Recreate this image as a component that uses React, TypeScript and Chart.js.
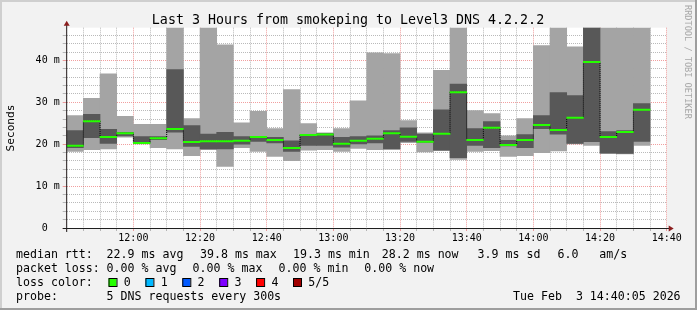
import { useEffect, useRef } from 'react';
import { Chart, registerables } from 'chart.js';

Chart.register(...registerables);

// ---- data -------------------------------------------------------------
// start of each 5-minute slot, in minutes after 11:40
const slotStartMin = [0, 5, 10, 15, 20, 25, 30, 35, 40, 45, 50, 55, 60, 65, 70, 75, 80, 85, 90, 95, 100, 105, 110, 115, 120, 125, 130, 135, 140, 145, 150, 155, 160, 165, 170];
const slotLength = 5;

// smoke: sorted pings (ms) per slot
const pingMin = [18.2, 18.6, 18.8, 21.6, 20.0, 19.1, 18.8, 17.2, 18.6, 14.6, 19.1, 18.2, 17.0, 16.0, 18.5, 18.6, 18.2, 18.9, 18.6, 18.7, 20.3, 18.1, 18.4, 16.3, 18.2, 18.4, 17.0, 17.2, 17.9, 18.3, 20.0, 19.6, 17.7, 17.6, 19.6];
const pingLow = [19.1, 21.5, 20.1, 21.9, 20.1, 21.0, 22.8, 19.4, 18.8, 18.8, 19.9, 20.6, 20.2, 18.2, 19.6, 19.6, 19.2, 20.0, 20.2, 18.8, 20.6, 20.4, 18.5, 16.7, 19.6, 19.1, 19.5, 19.1, 23.6, 22.3, 20.1, 20.5, 17.8, 17.7, 20.6];
const pingMedian = [19.6, 25.5, 21.7, 22.6, 20.3, 21.4, 23.6, 20.5, 20.7, 20.7, 20.8, 21.7, 21.0, 19.1, 22.2, 22.3, 20.1, 20.8, 21.3, 22.6, 21.8, 20.6, 22.5, 32.4, 21.0, 23.9, 19.8, 21.0, 24.6, 23.4, 26.3, 39.6, 21.7, 22.9, 28.2];
const pingHigh = [23.3, 27.2, 23.6, 22.9, 21.9, 21.9, 37.9, 24.5, 22.5, 22.9, 21.9, 21.9, 21.7, 20.9, 22.4, 22.6, 21.7, 21.9, 22.1, 23.3, 24.0, 22.5, 28.3, 34.4, 23.8, 25.5, 21.0, 22.4, 26.9, 32.4, 31.7, 55.0, 23.1, 23.3, 29.8];
const pingMax = [26.9, 31.0, 36.9, 26.7, 24.8, 24.8, 55.0, 26.2, 55.0, 43.8, 25.2, 27.9, 23.8, 33.1, 25.0, 22.8, 23.8, 30.4, 41.9, 41.7, 25.7, 22.8, 37.7, 55.0, 28.1, 27.4, 22.1, 26.2, 43.6, 55.0, 43.3, 58.0, 55.0, 55.0, 55.0];

const xTickMinutes = [20, 40, 60, 80, 100, 120, 140, 160, 180];
const xTickLabels = ['12:00', '12:20', '12:40', '13:00', '13:20', '13:40', '14:00', '14:20', '14:40'];
const yTickValues = [0, 10, 20, 30, 40];
const yTickLabels = ['0  ', '10 m', '20 m', '30 m', '40 m'];
const yMax = 47.8;

const titleText = 'Last 3 Hours from smokeping to Level3 DNS 4.2.2.2';
const rttStats = ['22.9 ms avg', '39.8 ms max', '19.3 ms min', '28.2 ms now', '3.9 ms sd', '6.0', 'am/s'];
const lossStats = ['0.00 % avg', '0.00 % max', '0.00 % min', '0.00 % now'];
const lossColorNames = ['0', '1', '2', '3', '4', '5/5'];
const lossColors = ['#26ff00', '#00b8ff', '#0059ff', '#7e00ff', '#ff0000', '#a00000'];
const probeText = '5 DNS requests every 300s';
const dateText = 'Tue Feb  3 14:40:05 2026';

// ---- style ------------------------------------------------------------
const W = 697;
const H = 310;
const PLOT = { left: 66.7, right: 666.7, top: 27.7, bottom: 228 };
const MONO = '"DejaVu Sans Mono", monospace';
const SMOKE_LIGHT = '#a4a4a4';
const SMOKE_DARK = '#585858';
const GRID_MINOR = 'rgba(140,140,140,0.6)';
const GRID_MAJOR = 'rgba(230,80,80,0.55)';

const decorPlugin = {
  id: 'rrdDecor',
  beforeDraw(chart: any) {
    const { ctx, chartArea } = chart;
    ctx.save();
    ctx.fillStyle = '#f2f2f2';
    ctx.fillRect(0, 0, W, H);
    ctx.fillStyle = '#cfcfcf';
    ctx.fillRect(0, 0, W, 2);
    ctx.fillRect(0, 0, 2, H);
    ctx.fillStyle = '#9e9e9e';
    ctx.fillRect(0, H - 2, W, 2);
    ctx.fillRect(W - 2, 0, 2, H);
    ctx.fillStyle = '#ffffff';
    ctx.fillRect(chartArea.left, chartArea.top, chartArea.right - chartArea.left, chartArea.bottom - chartArea.top);
    ctx.restore();
  },
  afterDatasetsDraw(chart: any) {
    const { ctx, chartArea } = chart;
    const x0 = chartArea.left;
    const y0 = chartArea.bottom;
    ctx.save();
    ctx.strokeStyle = '#1f1f1f';
    ctx.lineWidth = 1;
    ctx.beginPath();
    ctx.moveTo(x0 - 4, y0 + 0.5);
    ctx.lineTo(chartArea.right + 4, y0 + 0.5);
    ctx.stroke();
    ctx.beginPath();
    ctx.moveTo(x0, y0 + 4);
    ctx.lineTo(x0, chartArea.top - 3);
    ctx.stroke();
    ctx.fillStyle = '#8b1e1e';
    ctx.beginPath();
    ctx.moveTo(chartArea.right + 2, y0 + 0.5 - 3);
    ctx.lineTo(chartArea.right + 2, y0 + 0.5 + 3);
    ctx.lineTo(chartArea.right + 7, y0 + 0.5);
    ctx.closePath();
    ctx.fill();
    ctx.beginPath();
    ctx.moveTo(x0 - 3, chartArea.top - 2);
    ctx.lineTo(x0 + 3, chartArea.top - 2);
    ctx.lineTo(x0, chartArea.top - 7);
    ctx.closePath();
    ctx.fill();
    ctx.restore();
  },
  afterDraw(chart: any) {
    const { ctx } = chart;
    ctx.save();
    ctx.fillStyle = '#000';
    ctx.textBaseline = 'alphabetic';
    ctx.font = `13.3px ${MONO}`;
    ctx.textAlign = 'center';
    ctx.fillText(titleText, 348, 24);
    ctx.save();
    ctx.font = `11.2px ${MONO}`;
    ctx.translate(11, 128);
    ctx.rotate(-Math.PI / 2);
    ctx.textAlign = 'center';
    ctx.textBaseline = 'middle';
    ctx.fillText('Seconds', 0, 0);
    ctx.restore();
    ctx.save();
    ctx.font = `8.6px ${MONO}`;
    ctx.fillStyle = '#a8a8a8';
    ctx.translate(687, 5);
    ctx.rotate(Math.PI / 2);
    ctx.textAlign = 'left';
    ctx.textBaseline = 'middle';
    ctx.fillText('RRDTOOL / TOBI OETIKER', 0, 0);
    ctx.restore();
    ctx.font = `11.6px ${MONO}`;
    ctx.textAlign = 'left';
    const rows = [258.3, 272.1, 286.0, 299.9];
    ctx.fillText('median rtt:', 16, rows[0]);
    const rttX = [106.6, 200.0, 293.0, 381.8, 477.6, 557.6, 599.3];
    rttStats.forEach((t, i) => ctx.fillText(t, rttX[i], rows[0]));
    ctx.fillText('packet loss:', 16, rows[1]);
    const lossX = [106.6, 192.6, 278.6, 364.3];
    lossStats.forEach((t, i) => ctx.fillText(t, lossX[i], rows[1]));
    ctx.fillText('loss color:', 16, rows[2]);
    lossColorNames.forEach((t, i) => {
      const bx = 108.5 + i * 36.9;
      ctx.fillStyle = lossColors[i];
      ctx.fillRect(bx, 278.5, 8, 8);
      ctx.strokeStyle = '#000';
      ctx.lineWidth = 1;
      ctx.strokeRect(bx + 0.5, 278.5, 8, 8);
      ctx.fillStyle = '#000';
      ctx.fillText(t, bx + 15.3, rows[2]);
    });
    ctx.fillText('probe:', 16, rows[3]);
    ctx.fillText(probeText, 106.6, rows[3]);
    ctx.textAlign = 'right';
    ctx.fillText(dateText, 680.6, rows[3]);
    ctx.restore();
  },
};

export default function App() {
  const ref = useRef<HTMLCanvasElement | null>(null);

  useEffect(() => {
    document.body.style.margin = '0';
    const canvas = ref.current;
    if (!canvas) return;
    const centers = slotStartMin.map((s) => s + slotLength / 2);
    const barCommon = {
      type: 'bar' as const,
      grouped: false,
      barPercentage: 1.04,
      categoryPercentage: 1,
      borderWidth: 0,
    };
    const chart = new Chart(canvas, {
      type: 'bar',
      data: {
        datasets: [
          {
            ...barCommon,
            order: 0,
            backgroundColor: '#26ff00',
            data: pingMedian.map((m, i) => ({ x: centers[i], y: [m - 0.24, m + 0.24] })),
          } as any,
          {
            type: 'line',
            order: 1,
            stepped: true,
            borderColor: '#000',
            borderWidth: 1,
            borderDash: [1, 1],
            pointRadius: 0,
            fill: false,
            data: pingMedian.map((m, i) => ({ x: slotStartMin[i], y: m })),
          } as any,
          {
            ...barCommon,
            order: 2,
            backgroundColor: SMOKE_DARK,
            data: pingLow.map((lo, i) => ({ x: centers[i], y: [lo, pingHigh[i]] })),
          } as any,
          {
            ...barCommon,
            order: 3,
            backgroundColor: SMOKE_LIGHT,
            data: pingMin.map((lo, i) => ({ x: centers[i], y: [lo, pingMax[i]] })),
          } as any,
        ],
      },
      options: {
        responsive: false,
        animation: false,
        devicePixelRatio: 1,
        layout: { padding: { left: 0, top: PLOT.top, right: W - PLOT.right, bottom: 0 } },
        plugins: {
          legend: { display: false },
          tooltip: { enabled: false },
          title: { display: false },
        },
        scales: {
          x: {
            type: 'linear',
            position: 'bottom',
            min: 0,
            max: 180,
            offset: false,
            afterFit: (s: any) => {
              s.height = H - PLOT.bottom;
            },
            grid: {
              offset: false,
              lineWidth: 1,
              tickLength: 3,
              color: (c: any) => {
                const v = c.tick ? c.tick.value : 0;
                return v % 20 === 0 ? GRID_MAJOR : GRID_MINOR;
              },
            },
            border: { display: false, dash: [1, 1] },
            ticks: {
              stepSize: 5,
              autoSkip: false,
              maxRotation: 0,
              minRotation: 0,
              padding: 1,
              color: '#000',
              font: { family: MONO, size: 10 },
              callback: (v: any) => {
                const i = xTickMinutes.indexOf(Number(v));
                return i >= 0 ? xTickLabels[i] : '';
              },
            },
          },
          y: {
            type: 'linear',
            min: 0,
            max: yMax,
            afterFit: (s: any) => {
              s.width = PLOT.left;
            },
            grid: {
              lineWidth: 1,
              tickLength: 4,
              color: (c: any) => {
                const v = c.tick ? c.tick.value : 1;
                if (Math.abs(v / 2 - Math.round(v / 2)) > 1e-6) return 'rgba(0,0,0,0)';
                return Math.abs(v / 10 - Math.round(v / 10)) < 1e-6 ? GRID_MAJOR : GRID_MINOR;
              },
            },
            border: { display: false, dash: [1, 1] },
            ticks: {
              stepSize: 2,
              autoSkip: false,
              includeBounds: false,
              padding: 3,
              color: '#000',
              font: { family: MONO, size: 10 },
              callback: (v: any) => {
                const i = yTickValues.indexOf(Number(v));
                return i >= 0 ? yTickLabels[i] : '';
              },
            },
          },
        },
      } as any,
      plugins: [decorPlugin],
    });
    return () => chart.destroy();
  }, []);

  return <canvas ref={ref} width={W} height={H} style={{ display: 'block' }} />;
}
